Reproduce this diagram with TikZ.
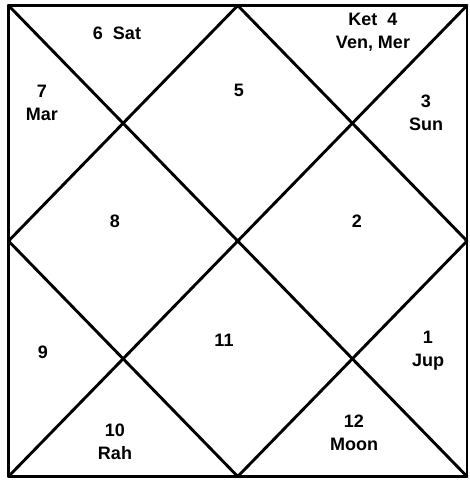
\documentclass[tikz,border=0pt]{standalone}
\usepackage{fontspec}
\setmainfont{Liberation Sans}
\begin{document}
\begin{tikzpicture}[x=1pt,y=-1pt,
  chartline/.style={line width=2.9pt, line cap=round, line join=round},
  lbl/.style={font=\bfseries\fontsize{18}{22}\selectfont, align=center, inner sep=0pt}]
\useasboundingbox (0,0) rectangle (470,480);
\coordinate (tl) at (8.5,5.5);
\coordinate (tr) at (467,5.5);
\coordinate (br) at (467,476.5);
\coordinate (bl) at (8.5,476.5);
\coordinate (mt) at (237.75,5.5);
\coordinate (mr) at (467,241);
\coordinate (mb) at (237.75,476.5);
\coordinate (ml) at (8.5,241);
\draw[chartline] (tl) -- (tr) -- (br) -- (bl) -- cycle;
\draw[chartline] (tl) -- (br);
\draw[chartline] (tr) -- (bl);
\draw[chartline] (mt) -- (mr) -- (mb) -- (ml) -- cycle;
\node[lbl] (h6) at (117,33) {6\ \ Sat};
\node[lbl] (h4) at (373,32) {Ket\ \ 4\\[1pt]Ven,\ Mer};
\node[lbl] (h7) at (42,103) {7\\[1pt]Mar};
\node[lbl] (h5) at (239,90) {5};
\node[lbl] (h3) at (426,113) {3\\[1pt]Sun};
\node[lbl] (h8) at (115,221) {8};
\node[lbl] (h2) at (357,221) {2};
\node[lbl] (h9) at (43,352) {9};
\node[lbl] (h11) at (224,340) {11};
\node[lbl] (h1) at (428,351) {1\\[1pt]Jup};
\node[lbl] (h10) at (115,442) {10\\[1pt]Rah};
\node[lbl] (h12) at (354,433) {12\\[1pt]Moon};
\end{tikzpicture}
\end{document}
